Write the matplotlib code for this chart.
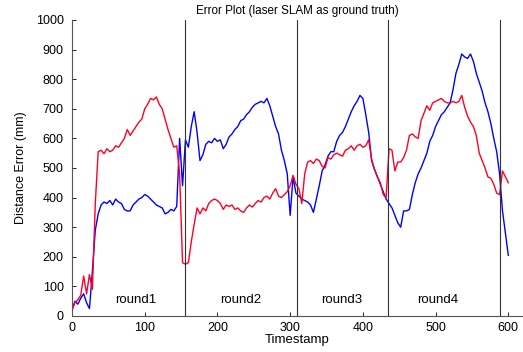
import numpy as np
import matplotlib
matplotlib.use("Agg")
import matplotlib.pyplot as plt

plt.rcParams['font.family'] = ['Liberation Sans', 'DejaVu Sans']

# timestamps (every 4 steps)
t = np.arange(0, 601, 4)

# red series (distance error, mm)
red_err = [20, 45, 55, 70, 135, 75, 140, 90, 380, 555,
           560, 548, 565, 555, 560, 575, 570, 585, 600, 630,
           610, 625, 640, 655, 665, 700, 715, 735, 730, 740,
           715, 700, 665, 630, 600, 570, 575, 480, 180, 175,
           180, 250, 310, 365, 345, 365, 355, 380, 390, 395,
           390, 380, 360, 375, 370, 375, 360, 365, 355, 350,
           365, 375, 368, 380, 390, 385, 400, 405, 395, 415,
           430, 405, 400, 410, 420, 440, 475, 445, 430, 380,
           480, 520, 525, 515, 530, 525, 505, 500, 535, 530,
           545, 550, 545, 540, 560, 565, 575, 560, 575, 580,
           570, 575, 595, 530, 495, 470, 450, 410, 400, 565,
           560, 490, 520, 520, 535, 560, 610, 615, 605, 600,
           660, 685, 710, 695, 720, 725, 730, 735, 725, 720,
           720, 725, 720, 725, 745, 705, 675, 655, 640, 610,
           550, 525, 500, 470, 465, 445, 415, 410, 490, 470,
           450]

# blue series (distance error, mm)
blue_err = [20, 50, 40, 60, 75, 45, 25, 150, 290, 345,
            375, 385, 380, 390, 375, 395, 385, 380, 360, 355,
            355, 375, 385, 395, 400, 410, 405, 395, 385, 375,
            370, 365, 345, 350, 360, 355, 370, 600, 440, 595,
            570, 640, 690, 620, 525, 545, 580, 590, 585, 600,
            590, 595, 565, 580, 605, 615, 630, 640, 660, 665,
            680, 690, 705, 715, 720, 725, 720, 735, 710, 675,
            640, 615, 560, 525, 480, 340, 470, 415, 405, 395,
            390, 385, 375, 350, 395, 440, 490, 510, 540, 555,
            555, 590, 610, 620, 640, 665, 690, 710, 725, 745,
            735, 680, 620, 525, 495, 470, 445, 420, 395, 380,
            365, 340, 315, 300, 355, 355, 360, 410, 450, 480,
            500, 525, 550, 590, 610, 640, 660, 680, 690, 705,
            720, 765, 820, 850, 885, 875, 870, 885, 860, 820,
            790, 760, 720, 690, 650, 600, 555, 480, 355, 280,
            205]

round_bounds = [155, 309, 434, 589]
round_labels = ['round1', 'round2', 'round3', 'round4']
round_label_x = [87, 232, 371, 503]

fig = plt.figure(figsize=(5.23, 3.52), dpi=100)
ax = fig.add_axes([0.1377, 0.1023, 0.862, 0.841])

ax.plot(t, blue_err, color='#0000ff', linewidth=1.0)
ax.plot(t, red_err, color='#ff0022', linewidth=1.0)

for xb in round_bounds:
    ax.plot([xb, xb], [0, 1000], color='#333333', linewidth=0.8)

for lx, lab in zip(round_label_x, round_labels):
    ax.text(lx, 54, lab, ha='center', va='center', fontsize=9.5)

ax.set_xlim(0, 620)
ax.set_ylim(0, 1000)
ax.set_xticks(np.arange(0, 601, 100))
ax.set_yticks(np.arange(0, 1001, 100))
ax.tick_params(direction='in', length=3, width=0.6, labelsize=9)
ax.tick_params(axis='y', pad=6)
ax.tick_params(axis='x', pad=4)
ax.spines['top'].set_visible(False)
ax.spines['right'].set_visible(False)
for s in ['left', 'bottom']:
    ax.spines[s].set_linewidth(0.8)
    ax.spines[s].set_color('#555555')

ax.set_xlabel('Timestamp', fontsize=9.5, labelpad=0)
ax.set_ylabel('Distance Error (mm)', fontsize=9, labelpad=6)
ax.set_title('Error Plot (laser SLAM as ground truth)', fontsize=8.4, pad=4)

fig.savefig('out.png', dpi=100)
